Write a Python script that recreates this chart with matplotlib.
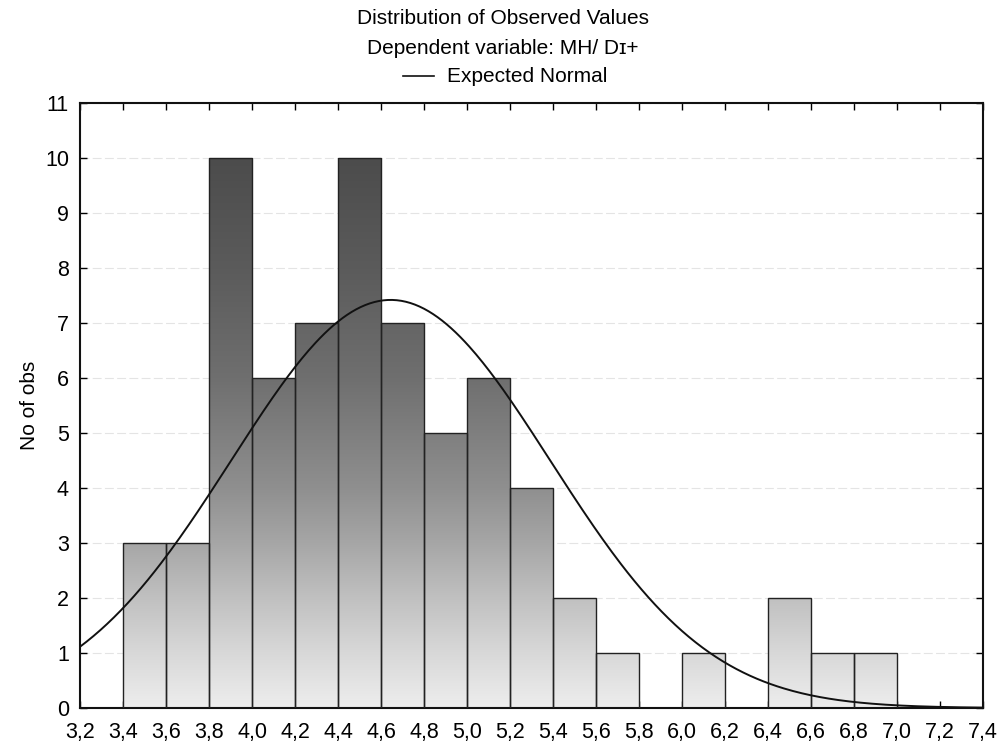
import numpy as np
import matplotlib.pyplot as plt
from matplotlib.colors import LinearSegmentedColormap

plt.rcParams['font.family'] = ['Liberation Sans', 'DejaVu Sans']

# histogram classes (left edges) and counts
bin_left = [3.4, 3.6, 3.8, 4.0, 4.2, 4.4, 4.6, 4.8, 5.0, 5.2, 5.4, 5.6, 5.8, 6.0, 6.2, 6.4, 6.6, 6.8]
counts = [3, 3, 10, 6, 7, 10, 7, 5, 6, 4, 2, 1, 0, 1, 0, 2, 1, 1]
bin_width = 0.2

# expected normal parameters
mean_val = 4.645
sd_val = 0.742
n_obs = sum(counts)

x_ticks = np.round(np.arange(3.2, 7.41, 0.2), 1)
x_labels = [f"{t:.1f}".replace('.', ',') for t in x_ticks]

fig = plt.figure(figsize=(10.05, 7.51), dpi=100)
ax = fig.add_axes([80 / 1005, (751 - 708) / 751, (983 - 80) / 1005, (708 - 103) / 751])

# vertical grey gradient, light near 0, dark towards 10
cmap = LinearSegmentedColormap.from_list('g', [
    (0.0, '#ededed'), (0.1, '#d8d8d8'), (0.2, '#c0c0c0'), (0.3, '#a6a6a6'),
    (0.4, '#8f8f8f'), (0.5, '#7f7f7f'), (0.6, '#6f6f6f'), (0.8, '#5b5b5b'),
    (1.0, '#4c4c4c')])
grad = np.linspace(0, 1, 256).reshape(-1, 1)

for xl, c in zip(bin_left, counts):
    if c == 0:
        continue
    rect = plt.Rectangle((xl, 0), bin_width, c, facecolor='none', edgecolor='#222222',
                         linewidth=1.0, zorder=3)
    ax.add_patch(rect)
    im = ax.imshow(grad, extent=(3.2, 7.4, 0, 10), origin='lower', cmap=cmap,
                   aspect='auto', zorder=2, interpolation='bilinear')
    im.set_clip_path(rect)

xs = np.linspace(3.2, 7.4, 400)
ys = n_obs * bin_width / (sd_val * np.sqrt(2 * np.pi)) * np.exp(-0.5 * ((xs - mean_val) / sd_val) ** 2)
ax.plot(xs, ys, color='#111111', linewidth=1.4, zorder=4)

ax.set_xlim(3.2, 7.4)
ax.set_ylim(0, 11)
ax.set_xticks(x_ticks)
ax.set_xticklabels(x_labels)
ax.set_yticks(range(0, 12))
ax.yaxis.grid(True, color='#e4e4e4', linewidth=0.8, linestyle=(0, (8, 3)), zorder=0)
ax.set_axisbelow(True)
ax.tick_params(direction='in', length=5, width=1, top=True, right=True, labelsize=15.5)
ax.tick_params(axis='x', pad=10)
ax.tick_params(axis='y', pad=8)
for s in ax.spines.values():
    s.set_linewidth(1.5)
    s.set_color('#111111')

ax.set_ylabel('No of obs', fontsize=15, labelpad=4)

fig.text(0.5, 1 - 18 / 751, 'Distribution of Observed Values', ha='center', va='center', fontsize=15)
fig.text(0.5, 1 - 48 / 751, 'Dependent variable: MH/ D\u026a+', ha='center', va='center', fontsize=15)
fig.text(447 / 1005, 1 - 77 / 751, 'Expected Normal', ha='left', va='center', fontsize=15)
fig.add_artist(plt.Line2D([403 / 1005, 434 / 1005], [1 - 76 / 751, 1 - 76 / 751],
                          color='#111111', linewidth=1.2))

fig.savefig('out.png', dpi=100)
